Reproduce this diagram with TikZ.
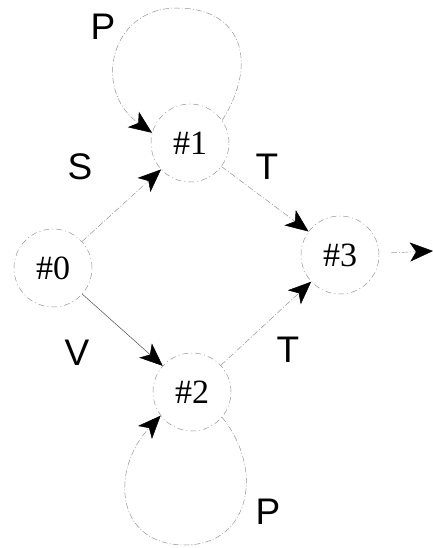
\documentclass[tikz,border=0pt]{standalone}
\usepackage{fontspec}
\setmainfont{Liberation Serif}
\setsansfont{Liberation Sans}
\usetikzlibrary{arrows.meta}
\begin{document}
\begin{tikzpicture}[x=1pt,y=-1pt,
  state/.style={circle,draw=gray!85,line width=0.5pt,dash pattern=on 6pt off 3pt on 1pt off 3pt,
    minimum size=78pt,inner sep=0pt,font=\fontsize{34}{34}\selectfont},
  bigtip/.style={-{Stealth[length=23pt,width=19pt,inset=6pt,color=black]}},
  edge/.style={draw=gray!85,line width=0.5pt,dash pattern=on 6pt off 2pt on 1pt off 2pt,bigtip},
  solidedge/.style={draw=gray!60!black,line width=0.5pt,bigtip},
  lbl/.style={font=\sffamily\fontsize{37}{37}\selectfont,inner sep=0pt}]
\useasboundingbox (0,0) rectangle (433,548);
\node[state] (n0) at (53,268) {\#0};
\node[state] (n1) at (190,143) {\#1};
\node[state] (n2) at (192,392) {\#2};
\node[state] (n3) at (340,255) {\#3};
\coordinate (out) at (433,251);
\coordinate (top1) at (177,8);
\coordinate (bot2) at (185,545);
\draw[edge] (n0) -- (n1);
\draw[solidedge] (n0) -- (n2);
\draw[edge] (n1) -- (n3);
\draw[edge] (n2) -- (n3);
\draw[edge,shorten <=12pt] (n3) -- (out);
\draw[edge] (n1.35) .. controls (260,60) and (240,8) .. (top1)
  .. controls (110,8) and (92,90) .. (n1.165);
\draw[edge] (n2.-40) .. controls (265,470) and (250,545) .. (bot2)
  .. controls (115,545) and (110,470) .. (n2.-143);
\node[lbl] (p1) at (103,27) {P};
\node[lbl] (s) at (80,167) {S};
\node[lbl] (t1) at (267,167) {T};
\node[lbl] (v) at (77,353) {V};
\node[lbl] (t2) at (288,350) {T};
\node[lbl] (p2) at (268,512) {P};
\end{tikzpicture}
\end{document}
